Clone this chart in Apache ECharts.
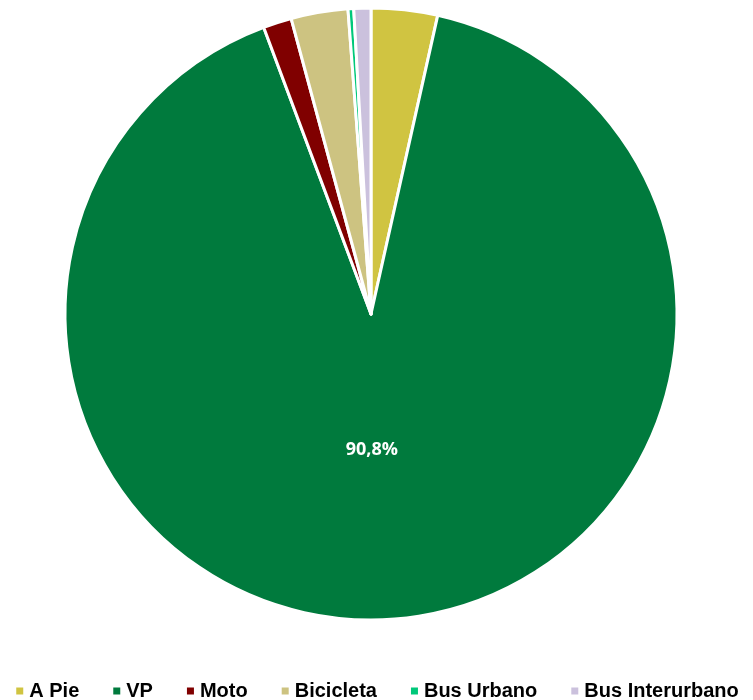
<!DOCTYPE html>
<html>
<head>
<meta charset="utf-8">
<script src="https://cdn.jsdelivr.net/npm/echarts@6/dist/echarts.min.js"></script>
<style>
  html, body { margin: 0; padding: 0; background: #fff; }
  #chart { width: 753px; height: 700px; }
</style>
</head>
<body>
<div id="chart"></div>
<script>
  // modo de viaje y su participación (%)
  var categories = ['A Pie', 'VP', 'Moto', 'Bicicleta', 'Bus Urbano', 'Bus Interurbano'];
  var shares = [3.5, 90.8, 1.5, 3.0, 0.3, 0.9];
  var colors = ['#d0c441', '#007a3d', '#800000', '#cdc381', '#00c87a', '#cbc1dd'];

  var data = categories.map(function (name, i) {
    var item = {name: name, value: shares[i], itemStyle: {color: colors[i]}};
    if (name === 'VP') {
      item.label = {
        show: true,
        position: 'inside',
        // bloques vacíos: suben el texto ~20px y lo corren ~10px a la izquierda
        formatter: function (p) { return '{v|' + String(p.value).replace('.', ',') + '%}{w|}\n{s|}'; },
        rich: {
          v: {color: '#fff', fontSize: 18, fontWeight: 'bold', fontFamily: 'Open Sans', height: 24},
          w: {width: 20, height: 24},
          s: {height: 40}
        }
      };
    }
    return item;
  });

  var chart = echarts.init(document.getElementById('chart'));
  chart.setOption({
    animation: false,
    legend: {
      top: 676,
      left: 'center',
      itemWidth: 9,
      itemHeight: 9,
      itemGap: 32,
      icon: 'rect',
      textStyle: {
        color: '#000',
        fontSize: 20,
        fontWeight: 'bold',
        fontFamily: 'Liberation Sans'
      },
      data: categories
    },
    series: [
      {
        type: 'pie',
        center: [371, 314],
        radius: 306,
        startAngle: 90,
        clockwise: true,
        label: {show: false},
        labelLine: {show: false},
        itemStyle: {borderColor: '#fff', borderWidth: 3},
        data: data
      }
    ]
  });
</script>
</body>
</html>
